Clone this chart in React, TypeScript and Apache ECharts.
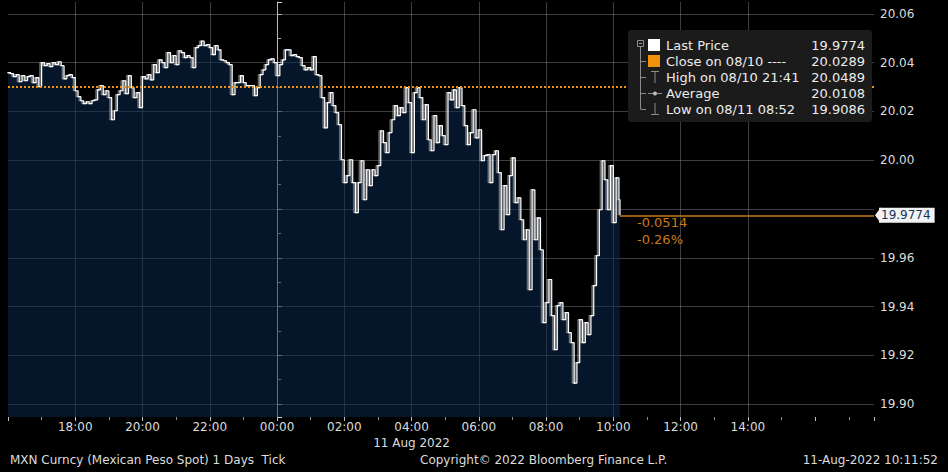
import React, { useEffect, useRef } from "react";
import * as echarts from "echarts";

const STEP_MINUTES = 5;
const EVENING_START_HOUR = -8;
const MORNING_START_HOUR = 0;

const PRICES_EVENING = [
  20.0359, 20.0355, 20.0343, 20.0351, 20.0322, 20.0347, 20.0326, 20.0343, 20.0347, 20.0318,
  20.0339, 20.0302, 20.04, 20.0388, 20.0396, 20.0384, 20.04, 20.0392, 20.0404, 20.0388,
  20.0334, 20.0347, 20.0351, 20.0339, 20.0285, 20.0261, 20.0244, 20.0232, 20.024, 20.0232,
  20.0244, 20.0248, 20.0289, 20.0306, 20.0269, 20.0285, 20.0257, 20.0166, 20.0203, 20.0269,
  20.0285, 20.0326, 20.0273, 20.0347, 20.0298, 20.0257, 20.0277, 20.0216, 20.0343, 20.0334,
  20.0351, 20.033, 20.0392, 20.0359, 20.0412, 20.04, 20.038, 20.0441, 20.04, 20.0429,
  20.0392, 20.0449, 20.0441, 20.0421, 20.0429, 20.0421, 20.038, 20.0462, 20.047, 20.0489,
  20.047, 20.0474, 20.0462, 20.0433, 20.047, 20.0453, 20.0412, 20.0408, 20.04, 20.0392,
  20.0269, 20.0318, 20.0318, 20.0347, 20.0318, 20.0306, 20.0306, 20.0306, 20.0265, 20.0298,
  20.0351, 20.0371, 20.0392, 20.0412, 20.0416, 20.04,
];

const PRICES_MORNING = [
  20.0347, 20.0392, 20.0412, 20.0453,
  20.0453, 20.0429, 20.0433, 20.0425, 20.0421, 20.0388, 20.0371, 20.038, 20.0371, 20.0425,
  20.0351, 20.0347, 20.0257, 20.0133, 20.0236, 20.0277, 20.0224, 20.0195, 20.0146, 20.0002,
  19.9908, 19.9937, 20.0002, 19.9908, 19.9785, 19.9908, 19.9998, 19.9838, 19.9961, 19.9896,
  19.9961, 19.9937, 19.9978, 20.0121, 20.0072, 20.0031, 20.0113, 20.0166, 20.0224, 20.0183,
  20.0216, 20.0195, 20.0298, 20.0236, 20.0031, 20.0277, 20.0298, 20.0257, 20.0166, 20.0228,
  20.0084, 20.0039, 20.0183, 20.0072, 20.0142, 20.0101, 20.0064, 20.0277, 20.0248, 20.0289,
  20.0216, 20.0298, 20.0224, 20.0142, 20.0064, 20.0113, 20.0207, 20.0092, 20.0125, 19.9998,
  20.0019, 20.0023, 19.9908, 20.0023, 20.0039, 19.9949, 19.9715, 19.9896, 19.9777, 19.9937,
  20.001, 19.9826, 19.9846, 19.9756, 19.9674, 19.9715, 19.9469, 19.9879, 19.9674, 19.9764,
  19.9633, 19.9334, 19.9416, 19.9511, 19.9363, 19.9223, 19.9404, 19.9416, 19.9346, 19.9375,
  19.9293, 19.9252, 19.9086, 19.917, 19.9346, 19.9252, 19.9334, 19.9285, 19.9363, 19.9486,
  19.9609, 19.9797, 19.9998, 19.992, 19.9797, 19.9978, 19.9744, 19.9928, 19.9838,
];

const LAST_TIME = [10, 11, 52];
const LAST_PRICE = 19.9774;
const PREV_CLOSE = 20.0289;
const CHANGE_TEXT = ["-0.0514", "-0.26%"];

const X_MIN = -8;
const X_MAX = 17.75;
const Y_MIN = 19.8947;
const Y_MAX = 20.0649;
const Y_STEP = 0.02;

const X_LABEL_HOURS = [-6, -4, -2, 0, 2, 4, 6, 8, 10, 12, 14];
const X_GRID_HOURS = [-6, -4, -2, 2, 4, 6, 8, 10, 12, 14];
const Y_GRID_VALUES = [19.9, 19.92, 19.94, 19.96, 19.98, 20.0, 20.02, 20.04, 20.06];
const MIDNIGHT_HOUR = 0;
const DATE_LABEL_HOUR = 4;
const DATE_LABEL = "11 Aug 2022";

const LEGEND_LABELS = [
  "Last Price",
  "Close on 08/10 ----",
  "High on 08/10 21:41",
  "Average",
  "Low on 08/11 08:52",
];
const LEGEND_VALUES = ["19.9774", "20.0289", "20.0489", "20.0108", "19.9086"];

const FOOTER_LEFT = "MXN Curncy (Mexican Peso Spot) 1 Days  Tick";
const FOOTER_MID = "Copyright\u00a9 2022 Bloomberg Finance L.P.";
const FOOTER_RIGHT = "11-Aug-2022 10:11:52";

const FONT = '"DejaVu Sans", "Liberation Sans", sans-serif';
const TEXT = "#dcdcdc";
const ORANGE = "#f0920c";
const ORANGE_DARK = "#c97a16";
const GRID_COLOR = "#8a8a8a";

function pad(n: number) {
  return (n < 10 ? "0" : "") + n;
}
function hourLabel(h: number) {
  const hh = ((Math.round(h) % 24) + 24) % 24;
  return pad(hh) + ":00";
}

function buildData() {
  const pts: [number, number][] = [];
  PRICES_EVENING.forEach((p, i) => pts.push([EVENING_START_HOUR + (i * STEP_MINUTES) / 60, p]));
  PRICES_MORNING.forEach((p, i) => pts.push([MORNING_START_HOUR + (i * STEP_MINUTES) / 60, p]));
  const lastHour = LAST_TIME[0] + LAST_TIME[1] / 60 + LAST_TIME[2] / 3600;
  pts.push([lastHour, LAST_PRICE]);
  return { pts, lastHour };
}

function legendGraphics() {
  const els: any[] = [];
  const bx = 628, by = 30, bw = 244, bh = 92;
  const rowY = (i: number) => 45 + i * 16;
  const grey = "#8c8c8c";
  els.push({ type: "rect", z: 100, shape: { x: bx, y: by, width: bw, height: bh, r: 3 }, style: { fill: "#1b1b1b" } });
  els.push({ type: "rect", z: 101, shape: { x: 637.5, y: 40.5, width: 6, height: 6 }, style: { fill: "none", stroke: grey, lineWidth: 1 } });
  els.push({ type: "line", z: 101, shape: { x1: 639, y1: 43.5, x2: 642, y2: 43.5 }, style: { stroke: grey, lineWidth: 1 } });
  els.push({ type: "line", z: 101, shape: { x1: 640.5, y1: 47, x2: 640.5, y2: rowY(4) }, style: { stroke: grey, lineWidth: 1 } });
  for (let i = 1; i < 5; i++) {
    els.push({ type: "line", z: 101, shape: { x1: 640.5, y1: rowY(i) + 0.5, x2: 646, y2: rowY(i) + 0.5 }, style: { stroke: grey, lineWidth: 1 } });
  }
  els.push({ type: "rect", z: 101, shape: { x: 648, y: 39, width: 12, height: 12 }, style: { fill: "#ffffff" } });
  els.push({ type: "rect", z: 101, shape: { x: 648, y: 55, width: 12, height: 12 }, style: { fill: ORANGE } });
  els.push({ type: "line", z: 101, shape: { x1: 651, y1: 71.5, x2: 659, y2: 71.5 }, style: { stroke: grey, lineWidth: 1 } });
  els.push({ type: "line", z: 101, shape: { x1: 655, y1: 71.5, x2: 655, y2: 83 }, style: { stroke: grey, lineWidth: 1 } });
  els.push({ type: "line", z: 101, shape: { x1: 648, y1: 93.5, x2: 662, y2: 93.5 }, style: { stroke: grey, lineWidth: 1 } });
  els.push({ type: "circle", z: 102, shape: { cx: 655, cy: 93.5, r: 2 }, style: { fill: "#bbbbbb" } });
  els.push({ type: "line", z: 101, shape: { x1: 655, y1: 103, x2: 655, y2: 114.5 }, style: { stroke: grey, lineWidth: 1 } });
  els.push({ type: "line", z: 101, shape: { x1: 651, y1: 114.5, x2: 659, y2: 114.5 }, style: { stroke: grey, lineWidth: 1 } });
  LEGEND_LABELS.forEach((t, i) => {
    els.push({ type: "text", z: 102, x: 666, y: rowY(i), style: { text: t, fill: "#ececec", fontSize: 13, fontFamily: FONT, verticalAlign: "middle", align: "left" } });
    els.push({ type: "text", z: 102, x: 865, y: rowY(i), style: { text: LEGEND_VALUES[i], fill: "#ececec", fontSize: 13, fontFamily: FONT, verticalAlign: "middle", align: "right" } });
  });
  return els;
}

function buildOption() {
  const { pts, lastHour } = buildData();
  const gridLine = { color: GRID_COLOR, type: "solid", width: 1, opacity: 0.45 };
  return {
    animation: false,
    backgroundColor: "#000000",
    textStyle: { fontFamily: FONT },
    grid: { left: 8, right: 74, top: 2, bottom: 55, containLabel: false },
    xAxis: {
      type: "value",
      min: X_MIN,
      max: X_MAX,
      interval: 2,
      axisLine: { show: false },
      axisTick: { show: true, length: 4, lineStyle: { color: "#bdbdbd" } },
      minorTick: { show: true, splitNumber: 2, length: 3, lineStyle: { color: "#8a8a8a" } },
      splitLine: { show: false },
      axisLabel: {
        color: TEXT,
        fontSize: 12,
        margin: 2,
        lineHeight: 16,
        formatter: (v: number) => {
          const h = Math.round(v);
          if (Math.abs(v - h) > 1e-6 || X_LABEL_HOURS.indexOf(h) < 0) return "";
          return h === DATE_LABEL_HOUR ? hourLabel(h) + "\n" + DATE_LABEL : hourLabel(h);
        },
      },
    },
    yAxis: {
      type: "value",
      position: "right",
      min: Y_MIN,
      max: Y_MAX,
      minInterval: Y_STEP,
      maxInterval: Y_STEP,
      splitNumber: 8,
      axisLine: { show: true, lineStyle: { color: "#d0d0d0", width: 1 } },
      axisTick: { show: true, length: 5, lineStyle: { color: "#d0d0d0" } },
      minorTick: { show: true, splitNumber: 2, length: 4, lineStyle: { color: "#aaaaaa" } },
      splitLine: { show: false },
      axisLabel: {
        color: TEXT,
        fontSize: 12,
        margin: 6,
        formatter: (v: number) => {
          const k = v / Y_STEP;
          if (Math.abs(k - Math.round(k)) > 1e-6) return "";
          if (Math.abs(v - LAST_PRICE) < Y_STEP / 3) return "";
          return v.toFixed(2);
        },
      },
    },
    series: [
      {
        type: "line",
        data: [],
        silent: true,
        z: 1,
        markLine: {
          z: 1,
          silent: true,
          symbol: ["none", "none"],
          label: { show: false },
          data: [
            ...X_GRID_HOURS.map((h) => ({ xAxis: h, lineStyle: gridLine })),
            ...Y_GRID_VALUES.map((v) => ({ yAxis: v, lineStyle: gridLine })),
            { xAxis: MIDNIGHT_HOUR, lineStyle: { color: "#b5bcc6", type: "solid", width: 1, opacity: 1 } },
          ],
        },
      },
      {
        type: "line",
        data: pts,
        z: 2,
        showSymbol: false,
        step: "end",
        lineStyle: {
          color: "#ffffff",
          width: 1.2,
          shadowColor: "rgba(175,175,175,0.95)",
          shadowOffsetX: -1.5,
          shadowOffsetY: 0,
          shadowBlur: 0,
        },
        areaStyle: { color: "rgba(10,42,82,0.75)", origin: "start" },
        markLine: {
          silent: true,
          symbol: ["none", "none"],
          data: [
            {
              yAxis: PREV_CLOSE,
              label: { show: false },
              lineStyle: { color: ORANGE, type: [2, 2], width: 2 },
            },
            [
              {
                coord: [lastHour, LAST_PRICE],
                lineStyle: { color: ORANGE_DARK, type: "solid", width: 1.5 },
                label: {
                  show: true,
                  position: "end",
                  distance: 5,
                  formatter: LAST_PRICE.toFixed(4),
                  color: "#17325a",
                  backgroundColor: "#f2f2f2",
                  padding: [2, 4, 1, 2],
                  fontSize: 12,
                  fontFamily: FONT,
                },
              },
              { coord: [X_MAX, LAST_PRICE] },
            ],
          ],
        },
        markPoint: {
          silent: true,
          data: [
            {
              coord: [X_MAX, LAST_PRICE],
              symbol: "triangle",
              symbolSize: [16, 6],
              symbolRotate: 90,
              symbolOffset: [4, 0],
              itemStyle: { color: "#f2f2f2" },
              label: { show: false },
            },
          ],
        },
      },
    ],
    graphic: [
      ...legendGraphics(),
      { type: "text", z: 102, x: 637, y: 222, style: { text: CHANGE_TEXT[0], fill: ORANGE_DARK, fontSize: 13, fontFamily: FONT, verticalAlign: "middle" } },
      { type: "text", z: 102, x: 637, y: 239, style: { text: CHANGE_TEXT[1], fill: ORANGE_DARK, fontSize: 13, fontFamily: FONT, verticalAlign: "middle" } },
      { type: "text", z: 102, x: 10, y: 460, style: { text: FOOTER_LEFT, fill: TEXT, fontSize: 12, fontFamily: FONT, verticalAlign: "middle" } },
      { type: "text", z: 102, x: 420, y: 460, style: { text: FOOTER_MID, fill: TEXT, fontSize: 12, fontFamily: FONT, verticalAlign: "middle" } },
      { type: "text", z: 102, x: 938, y: 460, style: { text: FOOTER_RIGHT, fill: TEXT, fontSize: 12, fontFamily: FONT, verticalAlign: "middle", align: "right" } },
    ],
  };
}

export default function App() {
  const ref = useRef<HTMLDivElement>(null);
  useEffect(() => {
    document.body.style.margin = "0";
    document.body.style.background = "#000";
    const chart = echarts.init(ref.current!, null, { renderer: "svg" });
    chart.setOption(buildOption() as any);
    return () => chart.dispose();
  }, []);
  return <div ref={ref} style={{ width: 948, height: 472, background: "#000" }} />;
}
